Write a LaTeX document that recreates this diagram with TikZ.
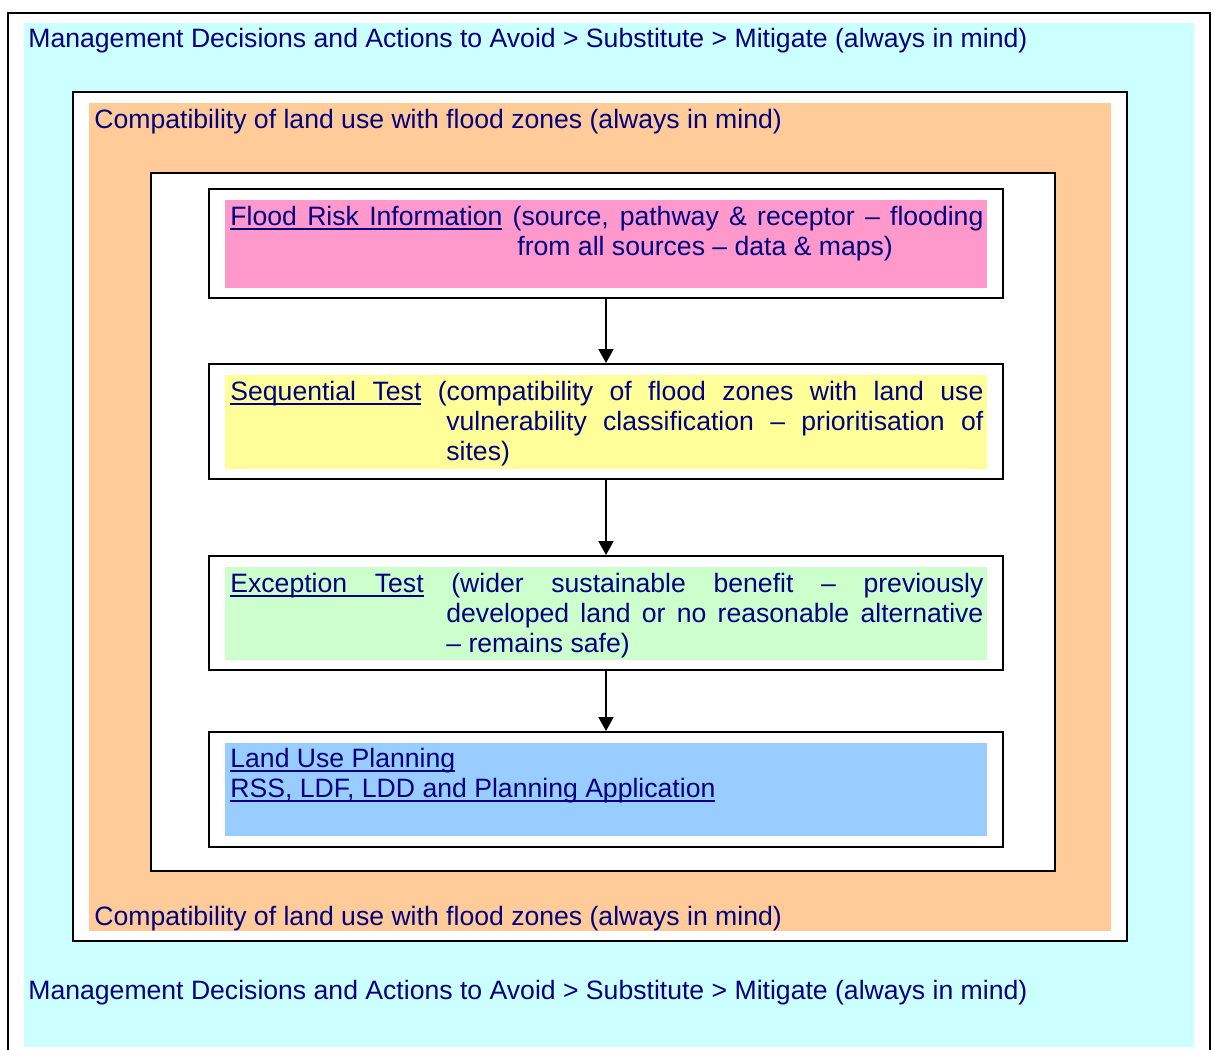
\documentclass[tikz,border=0pt]{standalone}
\usepackage{fontspec}
\setmainfont{Liberation Sans}
\usetikzlibrary{arrows.meta,fit}
\definecolor{txt}{RGB}{0,0,128}
\definecolor{cyanbg}{RGB}{204,255,255}
\definecolor{orangebg}{RGB}{255,204,153}
\definecolor{pinkbg}{RGB}{255,153,204}
\definecolor{yellowbg}{RGB}{255,255,153}
\definecolor{greenbg}{RGB}{204,255,204}
\definecolor{bluebg}{RGB}{153,204,255}
\newsavebox\myulbox
\newcommand\ulw[1]{\leavevmode\sbox\myulbox{#1}\rlap{\rule[-2.7pt]{\wd\myulbox}{1pt}}\usebox\myulbox}
\newcommand\ulsp{\leaders\hrule height -1.7pt depth 2.7pt\hskip\fontdimen2\font plus \fontdimen3\font minus \fontdimen4\font\relax}
\tikzset{
  frame/.style={draw=black, line width=1pt, fill=white, inner sep=0pt},
  area/.style={inner sep=0pt, draw=none},
  label/.style={anchor=base west, inner sep=0pt, text=txt, font=\fontsize{13.3}{15}\selectfont},
  flow/.style={line width=1pt, -{Triangle[length=7pt,width=7.5pt]}}
}
\begin{document}
\begin{tikzpicture}[x=0.5pt,y=-0.5pt]
\useasboundingbox (0,0) rectangle (1212,1050);
% outermost frame (its bottom edge lies below the picture)
\draw[line width=1pt] (7.5,1050) -- (7.5,12.5) -- (1209.5,12.5) -- (1209.5,1050);
\node[area, fill=cyanbg, fit={(24,23)(1194,1047)}] (cyanarea) {};
% compatibility frame
\node[frame, fit={(73,92)(1127,941)}] (orangeframe) {};
\node[area, fill=orangebg, fit={(89,103)(1111,931)}] (orangearea) {};
% inner white frame
\node[frame, fit={(151,173)(1055,871)}] (innerframe) {};
% step boxes
\node[frame, fit={(209,189)(1003,298)}] (b1) {};
\node[area, fill=pinkbg, fit={(225,200)(987,288)}] (f1) {};
\node[frame, fit={(209,364)(1003,479)}] (b2) {};
\node[area, fill=yellowbg, fit={(225,375)(987,469)}] (f2) {};
\node[frame, fit={(209,556)(1003,670)}] (b3) {};
\node[area, fill=greenbg, fit={(225,567)(987,660)}] (f3) {};
\node[frame, fit={(209,732)(1003,847)}] (b4) {};
\node[area, fill=bluebg, fit={(225,743)(987,836)}] (f4) {};
% connectors
\draw[flow] (b1.south) -- (b2.north);
\draw[flow] (b2.south) -- (b3.north);
\draw[flow] (b3.south) -- (b4.north);
% texts
\node[label] (mtop) at (28,47) {Management Decisions and Actions to Avoid > Substitute > Mitigate (always in mind)};
\node[label] (mbot) at (28,999) {Management Decisions and Actions to Avoid > Substitute > Mitigate (always in mind)};
\node[label] (ctop) at (94,128) {Compatibility of land use with flood zones (always in mind)};
\node[label] (cbot) at (94,925) {Compatibility of land use with flood zones (always in mind)};
\node[label] (t1) at (230,225) {\parbox[t]{376.5pt}{\hangindent=143.5pt\hangafter=1
  \ulw{Flood}\ulsp\ulw{Risk}\ulsp\ulw{Information} (source, pathway \& receptor – flooding\linebreak from all sources – data \& maps)}};
\node[label] (t2) at (230,400) {\parbox[t]{376.5pt}{\hangindent=108pt\hangafter=1
  \ulw{Sequential}\ulsp\ulw{Test} (compatibility of flood zones with land use\linebreak vulnerability classification – prioritisation of\linebreak sites)}};
\node[label] (t3) at (230,592) {\parbox[t]{376.5pt}{\hangindent=108pt\hangafter=1
  \ulw{Exception}\ulsp\ulw{Test} (wider sustainable benefit – previously\linebreak developed land or no reasonable alternative\linebreak – remains safe)}};
\node[label] (t4) at (230,767) {\parbox[t]{376.5pt}{\raggedright
  \ulw{Land}\ulsp\ulw{Use}\ulsp\ulw{Planning}\\
  \ulw{RSS,}\ulsp\ulw{LDF,}\ulsp\ulw{LDD}\ulsp\ulw{and}\ulsp\ulw{Planning}\ulsp\ulw{Application}}};
\end{tikzpicture}
\end{document}
